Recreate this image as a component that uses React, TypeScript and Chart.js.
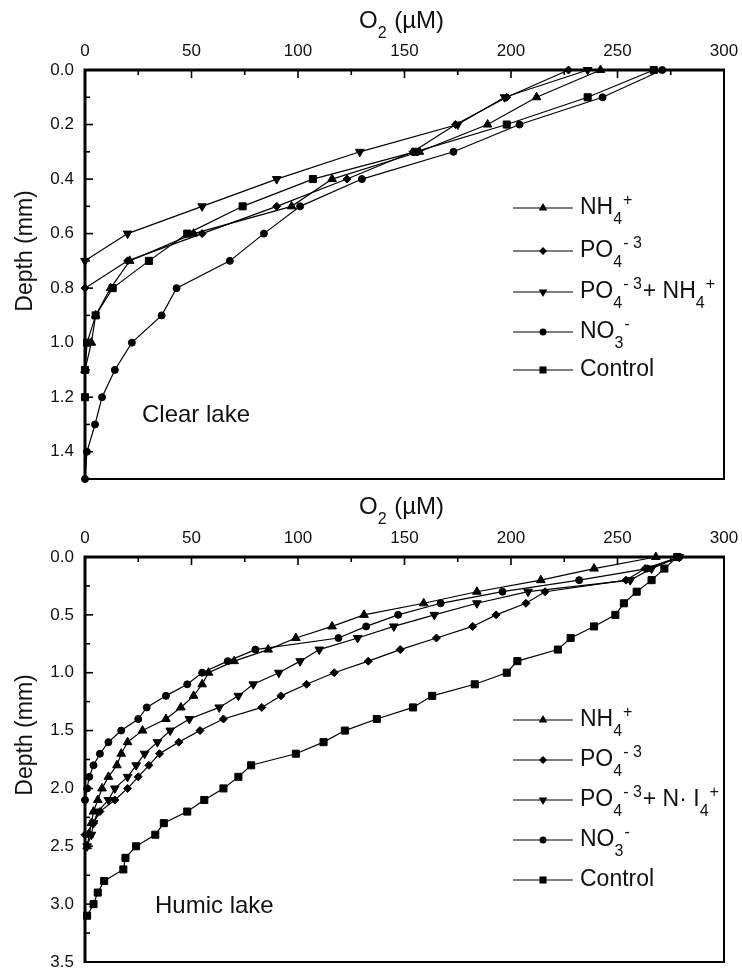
import React, { useEffect, useRef } from 'react';
import { Chart, registerables } from 'chart.js';

Chart.register(...registerables);

// ---------------- Data ----------------
// Clear lake (top panel) : depth (mm) vs O2 (µM)
const clearDepth = [0, 0.1, 0.2, 0.3, 0.4, 0.5, 0.6, 0.7, 0.8, 0.9, 1.0, 1.1, 1.2, 1.3, 1.4, 1.5];
const clearNH4 = [242, 212, 189, 157, 116, 97, 51, 21, 12, 5, 3, 0];
const clearPO4 = [227, 198, 174, 154, 123, 90, 55, 20, 0];
const clearPO4NH4 = [236, 197, 175, 129, 90, 55, 20, 0];
const clearNO3 = [271, 243, 204, 173, 130, 101, 84, 68, 43, 36, 22, 14, 8, 4.7, 0.9, 0];
const clearControl = [267, 236, 198, 155, 107, 74, 48, 30, 13, 5, 1, 0, 0];

// Humic lake (bottom panel)
const humicDepth = [0, 0.1, 0.2, 0.3, 0.4, 0.5, 0.6, 0.7, 0.8, 0.9, 1.0, 1.1, 1.2, 1.3, 1.4, 1.5,
  1.6, 1.7, 1.8, 1.9, 2.0, 2.1, 2.2, 2.3, 2.4, 2.5, 2.6, 2.7, 2.8, 2.9, 3.0, 3.1];
const humicNH4 = [268, 239, 214, 184, 159, 131, 116, 99, 86, 70, 58, 55, 51, 45, 38, 27, 20, 17, 15, 11, 8, 6, 4, 3, 2, 1];
const humicPO4 = [279, 263, 254, 216, 207, 193, 182, 165, 148, 133, 117, 104, 92, 83, 65, 54, 44, 35, 30, 25, 20, 14, 7, 4, 0];
const humicPO4NH4 = [279, 266, 256, 208, 184, 164, 145, 128, 110, 101, 91, 79, 72, 63, 49, 40, 34, 28, 24, 20, 14, 11, 6, 4, 3, 1];
const humicNO3 = [279, 264, 232, 196, 167, 147, 132, 119, 80, 67, 55, 48, 38, 29, 25, 17, 11, 7, 4, 2, 1, 0];
const humicControl = [278, 272, 266, 259, 253, 249, 239, 228, 222, 203, 198, 183, 163, 154, 137, 122, 112, 99, 78, 72,
  65, 56, 48, 37, 33, 24, 19, 18, 9, 6, 4, 1];

// Axis ranges / ticks
const o2Min = 0;
const o2Max = 300;
const o2MajorStep = 50;
const o2MinorStep = 25;
const clearDepthMax = 1.5;
const clearDepthStep = 0.2;
const clearDepthMinor = 0.1;
const humicDepthMax = 3.5;
const humicDepthStep = 0.5;
const humicDepthMinor = 0.25;

// Text
type Seg = [string, number]; // 0 normal, 1 subscript, 2 superscript
const axisTitleX: Seg[] = [['O', 0], ['2', 1], [' (µM)', 0]];
const axisTitleY = 'Depth (mm)';
const clearName = 'Clear lake';
const humicName = 'Humic lake';
const legendClear: Seg[][] = [
  [['NH', 0], ['4', 1], ['+', 2]],
  [['PO', 0], ['4', 1], ['- 3', 2]],
  [['PO', 0], ['4', 1], ['- 3', 2], ['+ NH', 0], ['4', 1], ['+', 2]],
  [['NO', 0], ['3', 1], ['-', 2]],
  [['Control', 0]],
];
const legendHumic: Seg[][] = [
  [['NH', 0], ['4', 1], ['+', 2]],
  [['PO', 0], ['4', 1], ['- 3', 2]],
  [['PO', 0], ['4', 1], ['- 3', 2], ['+ N· I', 0], ['4', 1], ['+', 2]],
  [['NO', 0], ['3', 1], ['-', 2]],
  [['Control', 0]],
];

// ---------------- Styling ----------------
const FONT = '"Liberation Sans", Arial, Helvetica, sans-serif';
const INK = '#111';

type Marker = { style: string; rot: number; r: number };
const markers: Marker[] = [
  { style: 'triangle', rot: 0, r: 5 },     // NH4+
  { style: 'rectRot', rot: 0, r: 4 },      // PO4-3
  { style: 'triangle', rot: 180, r: 5 },   // PO4-3 + NH4+
  { style: 'circle', rot: 0, r: 3.5 },     // NO3-
  { style: 'rect', rot: 0, r: 5 },         // Control
];

function drawMarker(ctx: CanvasRenderingContext2D, m: Marker, x: number, y: number) {
  ctx.beginPath();
  if (m.style === 'circle') {
    ctx.arc(x, y, m.r, 0, Math.PI * 2);
  } else if (m.style === 'triangle') {
    const base = (m.rot * Math.PI) / 180;
    for (let k = 0; k < 3; k++) {
      const a = base + (k * 2 * Math.PI) / 3;
      const px = x + Math.sin(a) * m.r;
      const py = y - Math.cos(a) * m.r;
      if (k === 0) ctx.moveTo(px, py); else ctx.lineTo(px, py);
    }
    ctx.closePath();
  } else if (m.style === 'rectRot') {
    ctx.moveTo(x, y - m.r);
    ctx.lineTo(x + m.r, y);
    ctx.lineTo(x, y + m.r);
    ctx.lineTo(x - m.r, y);
    ctx.closePath();
  } else {
    const s = Math.SQRT1_2 * m.r;
    ctx.rect(x - s, y - s, 2 * s, 2 * s);
  }
  ctx.fill();
}

function richWidth(ctx: CanvasRenderingContext2D, segs: Seg[], size: number) {
  let w = 0;
  for (const [t, k] of segs) {
    const fs = k === 0 ? size : Math.round(size * 0.68);
    ctx.font = `${fs}px ${FONT}`;
    w += ctx.measureText(t).width + (k ? 1 : 0);
  }
  return w;
}

function drawRich(ctx: CanvasRenderingContext2D, segs: Seg[], x: number, y: number, size: number) {
  let cx = x;
  ctx.textBaseline = 'middle';
  ctx.textAlign = 'left';
  for (const [t, k] of segs) {
    const fs = k === 0 ? size : Math.round(size * 0.68);
    ctx.font = `${fs}px ${FONT}`;
    const dy = k === 1 ? size * 0.52 : k === 2 ? -size * 0.34 : 0;
    ctx.fillText(t, cx, y + dy);
    cx += ctx.measureText(t).width + (k ? 1 : 0);
  }
}

type PanelCfg = {
  depth: number[];
  series: number[][];
  names: string[];
  yMax: number;
  yStep: number;
  yMinor: number;
  height: number;
  xAxisH: number;
  padBottom: number;
  titleY: number;
  depthLabelY: number;
  name: string;
  nameX: number;
  nameY: number;
  legend: Seg[][];
  legendRows: number[];
};

const seriesNames = ['NH4+', 'PO4-3', 'PO4-3 + NH4+', 'NO3-', 'Control'];

const clearPanel: PanelCfg = {
  depth: clearDepth,
  series: [clearNH4, clearPO4, clearPO4NH4, clearNO3, clearControl],
  names: seriesNames,
  yMax: clearDepthMax,
  yStep: clearDepthStep,
  yMinor: clearDepthMinor,
  height: 486,
  xAxisH: 70,
  padBottom: 7,
  titleY: 21,
  depthLabelY: 251,
  name: clearName,
  nameX: 142,
  nameY: 415,
  legend: legendClear,
  legendRows: [208, 251, 292, 332, 370],
};

const humicPanel: PanelCfg = {
  depth: humicDepth,
  series: [humicNH4, humicPO4, humicPO4NH4, humicNO3, humicControl],
  names: seriesNames,
  yMax: humicDepthMax,
  yStep: humicDepthStep,
  yMinor: humicDepthMinor,
  height: 486,
  xAxisH: 71,
  padBottom: 10,
  titleY: 21,
  depthLabelY: 249,
  name: humicName,
  nameX: 155,
  nameY: 420,
  legend: legendHumic,
  legendRows: [234, 274, 314, 354, 394],
};

function decorPlugin(p: PanelCfg) {
  return {
    id: 'panelDecor',
    afterDraw(chart: any) {
      const ctx: CanvasRenderingContext2D = chart.ctx;
      const a = chart.chartArea;
      const xs = chart.scales.x;
      const ys = chart.scales.y;
      ctx.save();
      ctx.strokeStyle = '#000';
      ctx.fillStyle = INK;
      ctx.lineCap = 'butt';

      // inward tick marks
      ctx.lineWidth = 1.6;
      const nX = Math.round((o2Max - o2Min) / o2MinorStep);
      for (let i = 0; i <= nX; i++) {
        const v = o2Min + i * o2MinorStep;
        const px = xs.getPixelForValue(v);
        const major = Math.abs(v / o2MajorStep - Math.round(v / o2MajorStep)) < 1e-6;
        ctx.beginPath();
        ctx.moveTo(px, a.top);
        ctx.lineTo(px, a.top + (major ? 8 : 5));
        ctx.stroke();
      }
      const nY = Math.round(p.yMax / p.yMinor);
      for (let i = 0; i <= nY; i++) {
        const v = i * p.yMinor;
        const py = ys.getPixelForValue(v);
        const major = Math.abs(v / p.yStep - Math.round(v / p.yStep)) < 1e-6;
        ctx.beginPath();
        ctx.moveTo(a.left, py);
        ctx.lineTo(a.left + (major ? 8 : 5), py);
        ctx.stroke();
      }

      // frame
      ctx.lineWidth = 2;
      ctx.beginPath();
      ctx.moveTo(a.right, a.top);
      ctx.lineTo(a.right, a.bottom);
      ctx.lineTo(a.left, a.bottom);
      ctx.stroke();
      ctx.lineWidth = 3;
      ctx.beginPath();
      ctx.moveTo(a.left, a.bottom + 1);
      ctx.lineTo(a.left, a.top);
      ctx.lineTo(a.right + 1, a.top);
      ctx.stroke();

      // x axis title
      const tSize = 24;
      const tw = richWidth(ctx, axisTitleX, tSize);
      const cx = (a.left + a.right) / 2 - 3;
      drawRich(ctx, axisTitleX, cx - tw / 2, p.titleY, tSize);

      // y axis title
      ctx.save();
      ctx.translate(26, p.depthLabelY);
      ctx.rotate(-Math.PI / 2);
      ctx.font = `23px ${FONT}`;
      ctx.textAlign = 'center';
      ctx.textBaseline = 'middle';
      ctx.fillText(axisTitleY, 0, 0);
      ctx.restore();

      // panel name
      ctx.font = `24px ${FONT}`;
      ctx.textAlign = 'left';
      ctx.textBaseline = 'middle';
      ctx.fillText(p.name, p.nameX, p.nameY);

      // legend
      p.legend.forEach((segs, i) => {
        const y = p.legendRows[i];
        ctx.strokeStyle = '#000';
        ctx.lineWidth = 1.2;
        ctx.beginPath();
        ctx.moveTo(513, y);
        ctx.lineTo(573, y);
        ctx.stroke();
        ctx.fillStyle = '#000';
        drawMarker(ctx, markers[i], 543, y);
        ctx.fillStyle = INK;
        drawRich(ctx, segs, 580, y, 23);
      });
      ctx.restore();
    },
  };
}

function makeConfig(p: PanelCfg): any {
  return {
    type: 'scatter',
    data: {
      datasets: p.series.map((vals, si) => ({
        label: p.names[si],
        data: vals.map((v, i) => ({ x: v, y: p.depth[i] })),
        showLine: true,
        borderColor: '#000',
        backgroundColor: '#000',
        borderWidth: 1.2,
        pointStyle: markers[si].style,
        pointRotation: markers[si].rot,
        pointRadius: markers[si].r,
        pointBorderWidth: 1,
        pointBackgroundColor: '#000',
        pointBorderColor: '#000',
        tension: 0,
        clip: false,
      })),
    },
    options: {
      responsive: false,
      animation: false,
      devicePixelRatio: 1,
      events: [],
      layout: { padding: { left: 0, right: 18, top: 0, bottom: p.padBottom } },
      plugins: { legend: { display: false }, tooltip: { enabled: false }, title: { display: false } },
      scales: {
        x: {
          type: 'linear',
          position: 'top',
          min: o2Min,
          max: o2Max,
          grid: { display: false, drawTicks: false },
          border: { display: false },
          ticks: {
            stepSize: o2MajorStep,
            padding: 8,
            color: INK,
            maxRotation: 0,
            autoSkip: false,
            font: { family: FONT, size: 17 },
          },
          afterFit(s: any) {
            s.height = p.xAxisH;
            s.paddingLeft = 0;
            s.paddingRight = 0;
          },
        },
        y: {
          type: 'linear',
          reverse: true,
          min: 0,
          max: p.yMax,
          grid: { display: false, drawTicks: false },
          border: { display: false },
          ticks: {
            stepSize: p.yStep,
            includeBounds: false,
            padding: 11,
            color: INK,
            autoSkip: false,
            font: { family: FONT, size: 17 },
            callback: (v: any) => Number(v).toFixed(1),
          },
          afterFit(s: any) {
            s.width = 85;
            s.paddingTop = 0;
            s.paddingBottom = 0;
          },
        },
      },
    },
    plugins: [decorPlugin(p)],
  };
}

function Panel({ cfg, top }: { cfg: PanelCfg; top: number }) {
  const ref = useRef<HTMLCanvasElement>(null);
  useEffect(() => {
    if (!ref.current) return;
    const chart = new Chart(ref.current, makeConfig(cfg));
    return () => chart.destroy();
  }, [cfg]);
  return (
    <canvas
      ref={ref}
      width={742}
      height={cfg.height}
      style={{ position: 'absolute', left: 0, top, width: 742, height: cfg.height }}
    />
  );
}

export default function App() {
  return (
    <div
      style={{
        position: 'absolute',
        left: 0,
        top: 0,
        width: 742,
        height: 972,
        background: '#fff',
        overflow: 'hidden',
      }}
    >
      <Panel cfg={clearPanel} top={0} />
      <Panel cfg={humicPanel} top={486} />
    </div>
  );
}
